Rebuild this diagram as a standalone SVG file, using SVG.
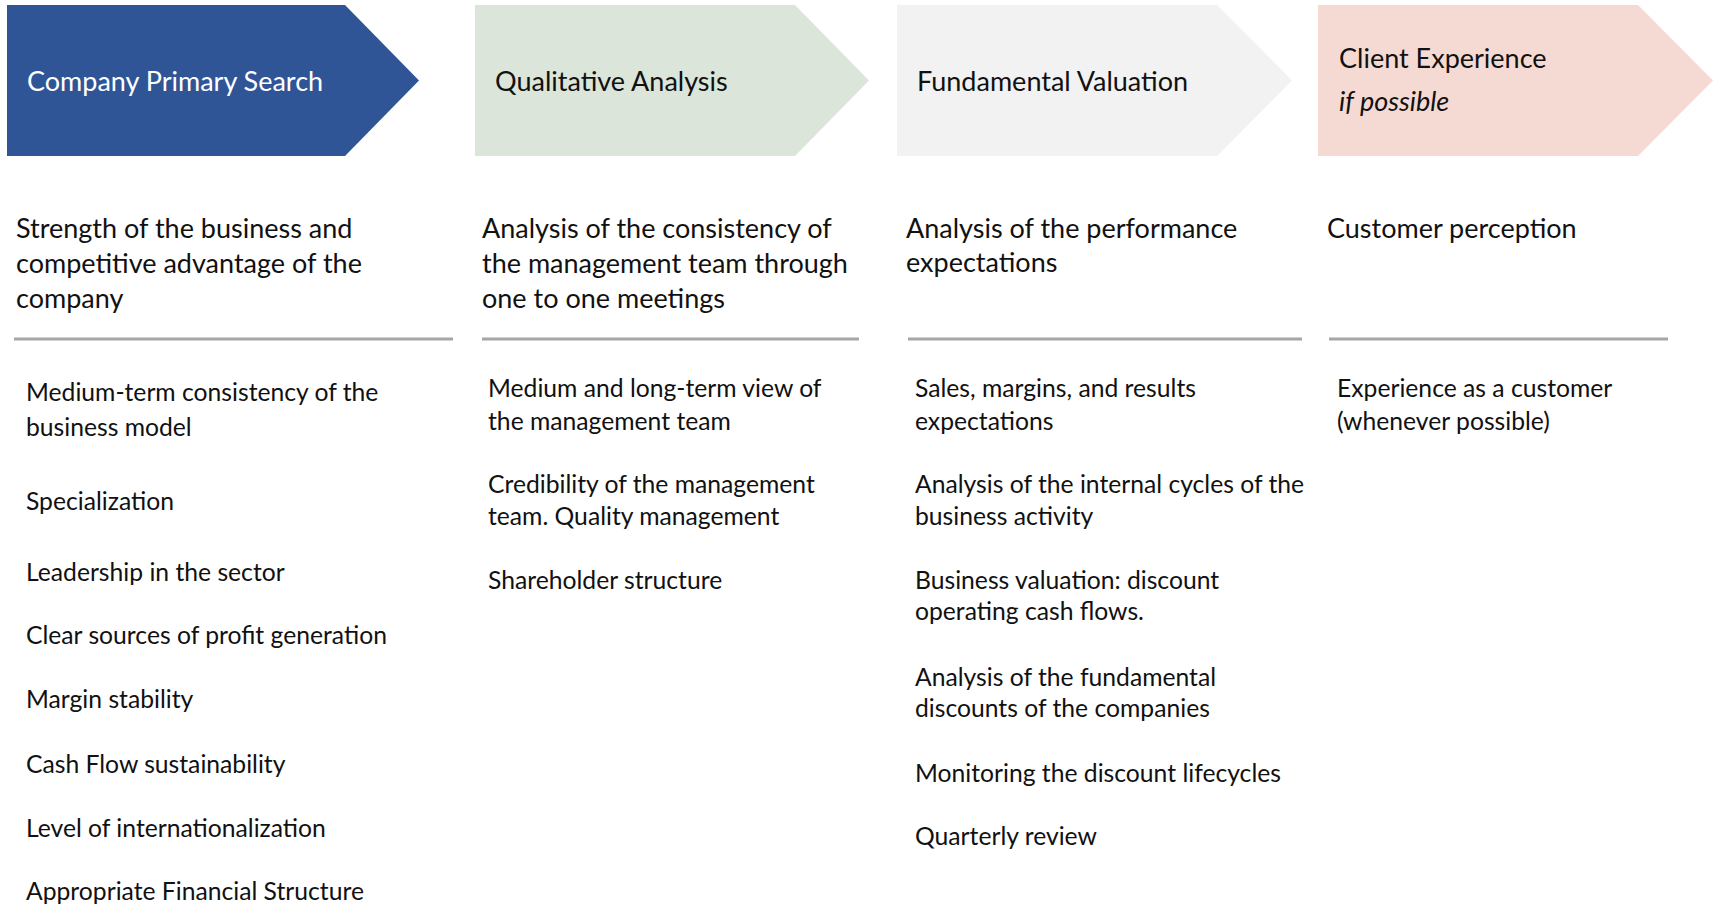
<svg xmlns="http://www.w3.org/2000/svg" width="1717" height="905" viewBox="0 0 1717 905">
<style>
text{font-family:Lato,"Liberation Sans",sans-serif;fill:#111}
.hd{font-size:27px}
.ds{font-size:27px}
.it{font-size:24.7px}
.sep{stroke:#a6a6a6;stroke-width:3}
</style>
<rect width="1717" height="905" fill="#fff"/>
<g id="stage-1">
<polygon points="7,5 345,5 419,80.5 345,156 7,156" fill="#2F5597"/>
<text class="hd" x="27" y="91" style="fill:#fff">Company Primary Search</text>
</g>
<g id="stage-2">
<polygon points="475,5 795,5 869,80.5 795,156 475,156" fill="#DBE5DA"/>
<text class="hd" x="495" y="91">Qualitative Analysis</text>
</g>
<g id="stage-3">
<polygon points="897,5 1217,5 1292,80.5 1217,156 897,156" fill="#F2F2F2"/>
<text class="hd" x="917" y="91">Fundamental Valuation</text>
</g>
<g id="stage-4">
<polygon points="1318,5 1638,5 1713,80.5 1638,156 1318,156" fill="#F5DAD3"/>
<text class="hd" x="1339" y="68">Client Experience</text>
<text class="hd" x="1339" y="111" font-style="italic">if possible</text>
</g>
<g id="connectors"></g>
<g id="column-1">
<text class="ds" x="16" y="238">Strength of the business and</text>
<text class="ds" x="16" y="273">competitive advantage of the</text>
<text class="ds" x="16" y="308">company</text>
<line class="sep" x1="14" y1="339" x2="453" y2="339"/>
<text class="it" x="26" y="401">Medium-term consistency of the</text>
<text class="it" x="26" y="436">business model</text>
<text class="it" x="26" y="510">Specialization</text>
<text class="it" x="26" y="581">Leadership in the sector</text>
<text class="it" x="26" y="644">Clear sources of profit generation</text>
<text class="it" x="26" y="708">Margin stability</text>
<text class="it" x="26" y="773">Cash Flow sustainability</text>
<text class="it" x="26" y="837">Level of internationalization</text>
<text class="it" x="26" y="900">Appropriate Financial Structure</text>
</g>
<g id="column-2">
<text class="ds" x="482" y="238">Analysis of the consistency of</text>
<text class="ds" x="482" y="273">the management team through</text>
<text class="ds" x="482" y="308">one to one meetings</text>
<line class="sep" x1="482" y1="339" x2="859" y2="339"/>
<text class="it" x="488" y="397">Medium and long-term view of</text>
<text class="it" x="488" y="430">the management team</text>
<text class="it" x="488" y="493">Credibility of the management</text>
<text class="it" x="488" y="525">team. Quality management</text>
<text class="it" x="488" y="589">Shareholder structure</text>
</g>
<g id="column-3">
<text class="ds" x="906" y="238">Analysis of the performance</text>
<text class="ds" x="906" y="272">expectations</text>
<line class="sep" x1="908" y1="339" x2="1302" y2="339"/>
<text class="it" x="915" y="397">Sales, margins, and results</text>
<text class="it" x="915" y="430">expectations</text>
<text class="it" x="915" y="493">Analysis of the internal cycles of the</text>
<text class="it" x="915" y="525">business activity</text>
<text class="it" x="915" y="589">Business valuation: discount</text>
<text class="it" x="915" y="620">operating cash flows.</text>
<text class="it" x="915" y="686">Analysis of the fundamental</text>
<text class="it" x="915" y="717">discounts of the companies</text>
<text class="it" x="915" y="782">Monitoring the discount lifecycles</text>
<text class="it" x="915" y="845">Quarterly review</text>
</g>
<g id="column-4">
<text class="ds" x="1327" y="238">Customer perception</text>
<line class="sep" x1="1329" y1="339" x2="1668" y2="339"/>
<text class="it" x="1337" y="397">Experience as a customer</text>
<text class="it" x="1337" y="430">(whenever possible)</text>
</g>
</svg>
